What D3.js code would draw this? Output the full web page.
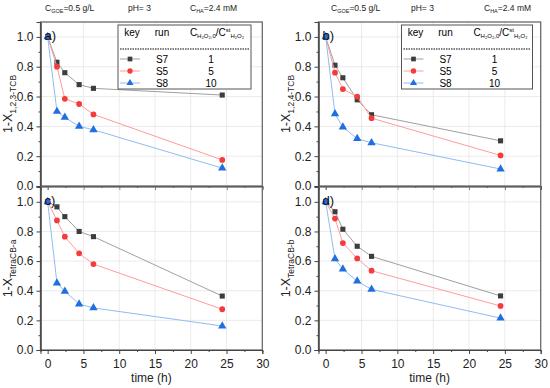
<!DOCTYPE html>
<html lang="en">
  <head>
    <meta charset="UTF-8" />
    <title>Degradation kinetics</title>
    <script src="https://d3js.org/d3.v7.min.js"></script>
    <style>
      body { margin: 0; background: white; }
      svg { display: block; font-family: "Liberation Sans", Arial, sans-serif; }
    </style>
  </head>
  <body>
    <svg width="550" height="388"></svg>
    <script>
      // times of sampling (h)
      const time = [0, 1.3, 2.4, 4.4, 6.4, 24.4];

      // 1-X values for each panel, runs S7, S5, S8
      const panelA_S7 = [1.0, 0.83, 0.76, 0.68, 0.655, 0.61];
      const panelA_S5 = [1.0, 0.80, 0.585, 0.55, 0.48, 0.175];
      const panelA_S8 = [1.0, 0.50, 0.46, 0.40, 0.377, 0.12];

      const panelB_S7 = [1.0, 0.81, 0.726, 0.578, 0.478, 0.303];
      const panelB_S5 = [1.0, 0.76, 0.65, 0.60, 0.455, 0.205];
      const panelB_S8 = [1.0, 0.484, 0.395, 0.318, 0.29, 0.114];

      const panelC_S7 = [1.0, 0.966, 0.90, 0.80, 0.765, 0.364];
      const panelC_S5 = [1.0, 0.874, 0.765, 0.652, 0.58, 0.275];
      const panelC_S8 = [1.0, 0.452, 0.396, 0.31, 0.284, 0.162];

      const panelD_S7 = [1.0, 0.933, 0.815, 0.70, 0.632, 0.365];
      const panelD_S5 = [1.0, 0.887, 0.722, 0.618, 0.535, 0.297];
      const panelD_S8 = [1.0, 0.615, 0.546, 0.465, 0.409, 0.215];

      const runs = ['S7', 'S5', 'S8'];
      const ratio = ['1', '5', '10'];
      const xTicks = [0, 5, 10, 15, 20, 25, 30];
      const yTicks = [0, 0.2, 0.4, 0.6, 0.8, 1.0];

      const styles = {
        S7: { line: '#a0a0a0', mark: '#3d3d3d', shape: d3.symbolSquare },
        S5: { line: '#ff9c9c', mark: '#f53b3b', shape: d3.symbolCircle },
        S8: { line: '#8fbcf2', mark: '#1f6fe0', shape: d3.symbolTriangle },
      };

      const panels = [
        { id: 'a)', col: 0, row: 0, sub: '1,2,3-TCB', data: [panelA_S7, panelA_S5, panelA_S8] },
        { id: 'b)', col: 1, row: 0, sub: '1,2,4-TCB', data: [panelB_S7, panelB_S5, panelB_S8] },
        { id: 'c)', col: 0, row: 1, sub: 'TetraCB-a', data: [panelC_S7, panelC_S5, panelC_S8] },
        { id: 'd)', col: 1, row: 1, sub: 'TetraCB-b', data: [panelD_S7, panelD_S5, panelD_S8] },
      ];

      const colX = [[40.5, 262.3], [318.5, 540.7]];
      const rowY = [[186, 22], [350, 187]];

      const svg = d3.select('svg');

      panels.forEach((p) => {
        const x = d3.scaleLinear().domain([-1, 30]).range(colX[p.col]);
        const y = d3.scaleLinear().domain([0, 1.1]).range(rowY[p.row]);
        const g = svg.append('g');

        // grid
        g.selectAll('.vg')
          .data(xTicks.slice(1, -1))
          .join('line')
          .attr('x1', (d) => x(d)).attr('x2', (d) => x(d))
          .attr('y1', y(0)).attr('y2', y(1.1))
          .attr('stroke', '#e6e6e6').attr('stroke-width', 0.8);
        g.selectAll('.hg')
          .data(yTicks.slice(1))
          .join('line')
          .attr('x1', x(-1)).attr('x2', x(30))
          .attr('y1', (d) => y(d)).attr('y2', (d) => y(d))
          .attr('stroke', '#e6e6e6').attr('stroke-width', 0.8);

        // frame
        g.append('rect')
          .attr('x', x(-1)).attr('y', y(1.1))
          .attr('width', x(30) - x(-1)).attr('height', y(0) - y(1.1))
          .attr('fill', 'none').attr('stroke', '#6a6a6a').attr('stroke-width', 1.3);

        // left axis
        const yAxis = g.append('g').attr('transform', `translate(${x(-1)},0)`)
          .call(d3.axisLeft(y).tickValues(yTicks).tickSize(4).tickFormat(d3.format('.1f')));
        yAxis.append('g').call(d3.axisLeft(y).tickValues(d3.range(0.1, 1.1, 0.2)).tickSize(2).tickFormat(''));
        yAxis.selectAll('.domain').attr('stroke', '#444');
        yAxis.selectAll('line').attr('stroke', '#444');
        yAxis.selectAll('text').attr('font-size', 12).attr('fill', '#222').attr('font-family', '"Liberation Sans", Arial, sans-serif');

        // bottom axis
        const xAxis = g.append('g').attr('transform', `translate(0,${y(0)})`)
          .call(d3.axisBottom(x).tickValues(xTicks).tickSize(4).tickFormat(p.row === 1 ? d3.format('d') : ''));
        xAxis.append('g').call(d3.axisBottom(x).tickValues(d3.range(2.5, 30, 5)).tickSize(2).tickFormat(''));
        xAxis.selectAll('.domain').attr('stroke', '#444');
        xAxis.selectAll('line').attr('stroke', '#444');
        xAxis.selectAll('text').attr('font-size', 12).attr('fill', '#222').attr('dy', '0.95em')
          .attr('font-family', '"Liberation Sans", Arial, sans-serif');

        // y title
        const cy = (y(0) + y(1.1)) / 2;
        const tx = p.col === 0 ? 12 : 290;
        const yt = g.append('text')
          .attr('transform', `translate(${tx},${cy}) rotate(-90)`)
          .attr('text-anchor', 'middle').attr('font-size', 12.5).attr('fill', '#222');
        yt.append('tspan').text('1-X');
        yt.append('tspan').attr('font-size', 8.5).attr('dy', 4).text(p.sub);

        // series
        runs.forEach((r, i) => {
          const vals = p.data[i];
          const pts = vals.map((v, k) => [time[k], v]);
          const st = styles[r];
          g.append('path').datum(pts)
            .attr('fill', 'none').attr('stroke', st.line).attr('stroke-width', 1)
            .attr('d', d3.line().x((d) => x(d[0])).y((d) => y(d[1])));
          g.selectAll('.m' + r).data(pts).join('path')
            .attr('transform', (d) => `translate(${x(d[0])},${y(d[1])})`)
            .attr('d', d3.symbol().type(st.shape).size(r === 'S8' ? 30 : 26))
            .attr('fill', st.mark);
        });

        // panel label
        g.append('text').attr('x', x(-1) + 4).attr('y', y(1.1) + 18)
          .attr('font-size', 13).attr('fill', '#111').text(p.id);

        // bottom title
        if (p.row === 1) {
          g.append('text').attr('x', (x(-1) + x(30)) / 2).attr('y', 382)
            .attr('text-anchor', 'middle').attr('font-size', 12).attr('fill', '#222').text('time (h)');
        }

        // header and legend for top panels
        if (p.row === 0) {
          const hx = p.col === 0 ? [45, 128, 190] : [331, 411, 484];
          const h1 = svg.append('text').attr('x', hx[0]).attr('y', 11).attr('font-size', 8.5).attr('fill', '#222');
          h1.append('tspan').text('C');
          h1.append('tspan').attr('font-size', 5.5).attr('dy', 2).text('GOE');
          h1.append('tspan').attr('dy', -2).text('=0.5 g/L');
          svg.append('text').attr('x', hx[1]).attr('y', 11).attr('font-size', 8.5).attr('fill', '#222').text('pH= 3');
          const h3 = svg.append('text').attr('x', hx[2]).attr('y', 11).attr('font-size', 8.5).attr('fill', '#222');
          h3.append('tspan').text('C');
          h3.append('tspan').attr('font-size', 5.5).attr('dy', 2).text('HA');
          h3.append('tspan').attr('dy', -2).text('=2.4 mM');

          const lx = p.col === 0 ? 118 : 401.5;
          const lw = p.col === 0 ? 133 : 131;
          const lg = svg.append('g').attr('transform', `translate(${lx},25)`);
          lg.append('rect').attr('width', lw).attr('height', 64)
            .attr('fill', 'white').attr('stroke', '#555').attr('stroke-width', 1);
          const cols = [14, 44, 99];
          lg.append('text').attr('x', cols[0]).attr('y', 11).attr('text-anchor', 'middle').attr('font-size', 10).text('key');
          lg.append('text').attr('x', cols[1]).attr('y', 11).attr('text-anchor', 'middle').attr('font-size', 10).text('run');
          const hc = lg.append('text').attr('x', cols[2]).attr('y', 11).attr('text-anchor', 'middle').attr('font-size', 10);
          hc.append('tspan').text('C');
          hc.append('tspan').attr('font-size', 6).attr('dy', 2).text('H₂O₂,0');
          hc.append('tspan').attr('dy', -2).text('/C');
          hc.append('tspan').attr('font-size', 6).attr('dy', -4).text('st');
          hc.append('tspan').attr('font-size', 6).attr('dy', 6).text('H₂O₂');
          lg.append('line').attr('x1', 2).attr('x2', lw - 2).attr('y1', 24).attr('y2', 24)
            .attr('stroke', '#555').attr('stroke-width', 1.5).attr('stroke-dasharray', '1.5,1');
          runs.forEach((r, i) => {
            const ry = 34 + i * 12;
            const st = styles[r];
            lg.append('line').attr('x1', 2).attr('x2', 22).attr('y1', ry).attr('y2', ry)
              .attr('stroke', st.line).attr('stroke-width', 1);
            lg.append('path').attr('transform', `translate(12,${ry})`)
              .attr('d', d3.symbol().type(st.shape).size(22)).attr('fill', st.mark);
            lg.append('text').attr('x', cols[1]).attr('y', ry + 4).attr('text-anchor', 'middle')
              .attr('font-size', 10).text(r);
            lg.append('text').attr('x', cols[2] - 6).attr('y', ry + 4).attr('text-anchor', 'middle')
              .attr('font-size', 10).text(ratio[i]);
          });
        }
      });
    </script>
  </body>
</html>
